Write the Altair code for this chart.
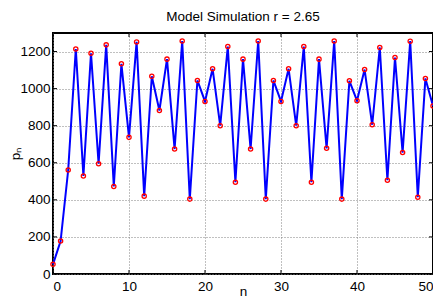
import altair as alt
import pandas as pd

# ---- data ----
n_values = list(range(51))
p_values = [52, 178, 561, 1214, 529, 1191, 595, 1236, 472, 1134,
            737, 1252, 420, 1067, 882, 1159, 674, 1257, 404, 1044,
            931, 1107, 800, 1227, 495, 1159, 674, 1257, 404, 1044,
            931, 1107, 800, 1227, 495, 1159, 678, 1257, 404, 1042,
            935, 1103, 805, 1222, 506, 1168, 655, 1256, 414, 1055,
            906]
x_ticks = [0, 10, 20, 30, 40, 50]
y_ticks = [0, 200, 400, 600, 800, 1000, 1200]
title_text = "Model Simulation r = 2.65"

W, H = 380, 241
TICK = 4
FONT = "Liberation Sans"
FS = 13.5

df = pd.DataFrame({"n": n_values, "p": p_values})
xt = pd.DataFrame({"n": x_ticks})
yt = pd.DataFrame({"p": y_ticks})

xs = alt.Scale(domain=[0, 50], nice=False, zero=False)
ys = alt.Scale(domain=[0, 1300], nice=False, zero=False)

xaxis = alt.Axis(values=x_ticks, title="n", format="d",
                 titleX=W / 2, titleY=21, titleBaseline="alphabetic")
yaxis = alt.Axis(values=y_ticks, title="pₙ", format="d",
                 titleX=-38, titleY=H / 2, titleAngle=-90,
                 titleBaseline="middle", titleAlign="center")

line = alt.Chart(df).mark_line(color="#0000ff", strokeWidth=2).encode(
    x=alt.X("n:Q", scale=xs, axis=xaxis),
    y=alt.Y("p:Q", scale=ys, axis=yaxis),
)
pts = alt.Chart(df).mark_point(
    shape="circle", filled=False, color="#ff0000", size=18, strokeWidth=1.3, opacity=1
).encode(x=alt.X("n:Q", scale=xs), y=alt.Y("p:Q", scale=ys))

tick_style = dict(color="black", strokeWidth=1)
xt_bottom = alt.Chart(xt).mark_rule(**tick_style).encode(
    x=alt.X("n:Q", scale=xs), y=alt.value(H), y2=alt.value(H - TICK))
xt_top = alt.Chart(xt).mark_rule(**tick_style).encode(
    x=alt.X("n:Q", scale=xs), y=alt.value(0), y2=alt.value(TICK))
yt_left = alt.Chart(yt).mark_rule(**tick_style).encode(
    y=alt.Y("p:Q", scale=ys), x=alt.value(0), x2=alt.value(TICK))
yt_right = alt.Chart(yt).mark_rule(**tick_style).encode(
    y=alt.Y("p:Q", scale=ys), x=alt.value(W), x2=alt.value(W - TICK))

chart = (
    alt.layer(line, pts, xt_bottom, xt_top, yt_left, yt_right)
    .properties(
        width=W, height=H,
        title=alt.TitleParams(title_text, fontSize=FS, fontWeight="normal",
                              font=FONT, color="black", offset=9, anchor="middle"),
        autosize=alt.AutoSizeParams(type="none"),
        padding={"left": 45, "top": 25, "right": 0, "bottom": 23},
        background="white",
    )
    .configure_view(stroke="black", strokeWidth=2)
    .configure_axis(
        grid=True, gridDash=[1, 2], gridColor="#808080", gridWidth=1, gridOpacity=1,
        domain=False, ticks=False, tickSize=0,
        labelFont=FONT, labelFontSize=FS, labelColor="black",
        titleFont=FONT, titleFontSize=FS, titleFontWeight="normal", titleColor="black",
    )
    .configure_axisX(labelPadding=5)
    .configure_axisY(labelPadding=3)
)

chart.save("out.html", embed_options={"renderer": "svg", "actions": False})
